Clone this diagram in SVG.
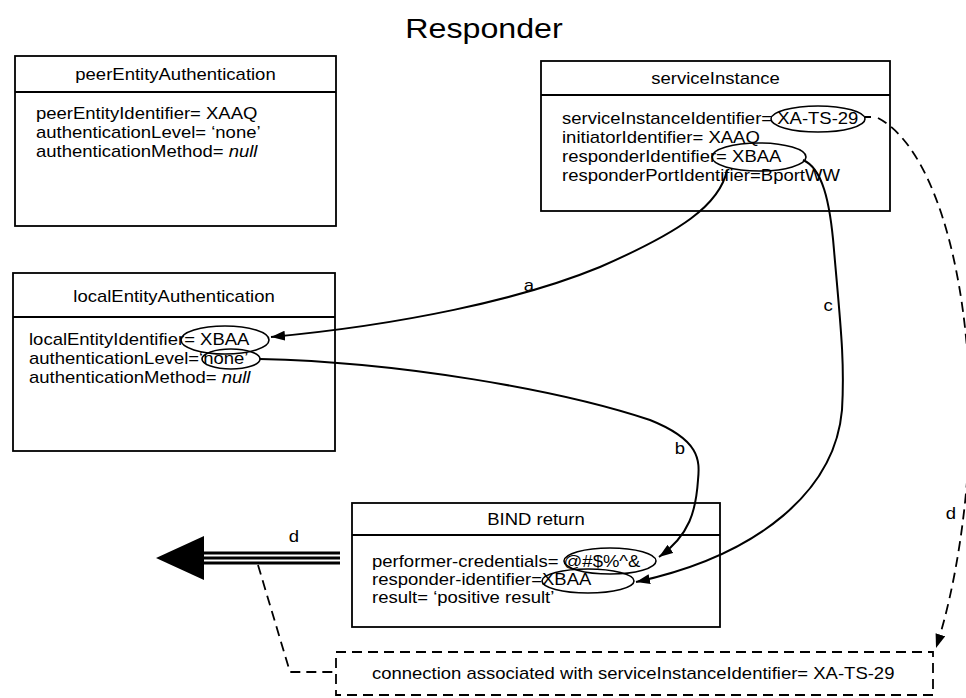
<svg xmlns="http://www.w3.org/2000/svg" width="966" height="698" viewBox="0 0 966 698">
<defs>
<style>
.t{font-family:"Liberation Sans",Arial,sans-serif;font-size:16px;fill:#000}
.c{text-anchor:middle}
.box{fill:#fff;stroke:#000;stroke-width:1.8}
.div{stroke:#000;stroke-width:1.8}
.ell{fill:none;stroke:#000;stroke-width:1.6}
.con{fill:none;stroke:#000;stroke-width:2}
.dash{fill:none;stroke:#000;stroke-width:1.8;stroke-dasharray:10 6}
.tri{stroke:#000;stroke-width:3}
.title{font-family:"Liberation Sans",Arial,sans-serif;font-size:28px;fill:#000;text-anchor:middle}
</style>
<marker id="ah" viewBox="0 0 14 10" refX="14" refY="5" markerWidth="14" markerHeight="10" markerUnits="userSpaceOnUse" orient="auto">
<path d="M0,0 L14,5 L0,10 Z" fill="#000"/>
</marker>
</defs>
<rect width="966" height="698" fill="#fff"/>
<text class="title" transform="translate(484,38) scale(1.15,1)">Responder</text>

<g id="peerEntityAuthentication">
<rect class="box" x="15" y="56" width="321" height="170"/>
<line class="div" x1="15" y1="92" x2="336" y2="92"/>
<text class="t c" transform="translate(175.5,80) scale(1.156,1)">peerEntityAuthentication</text>
<text class="t" transform="translate(36,119) scale(1.156,1)">peerEntityIdentifier= XAAQ</text>
<text class="t" transform="translate(36,138) scale(1.156,1)">authenticationLevel= ‘none’</text>
<text class="t" transform="translate(36,157) scale(1.156,1)">authenticationMethod= <tspan font-style="italic">null</tspan></text>
</g>

<g id="serviceInstance">
<rect class="box" x="541" y="61" width="349" height="150"/>
<line class="div" x1="541" y1="95" x2="890" y2="95"/>
<text class="t c" transform="translate(715.5,84) scale(1.156,1)">serviceInstance</text>
<text class="t" transform="translate(562,124) scale(1.156,1)">serviceInstanceIdentifier= XA-TS-29</text>
<text class="t" transform="translate(562,143) scale(1.156,1)">initiatorIdentifier= XAAQ</text>
<text class="t" transform="translate(562,162) scale(1.156,1)">responderIdentifier= XBAA</text>
<text class="t" transform="translate(562,181) scale(1.156,1)">responderPortIdentifier=BportWW</text>
<ellipse class="ell" cx="818" cy="119" rx="47" ry="13"/>
<ellipse class="ell" cx="759" cy="157" rx="47" ry="14"/>
</g>

<g id="localEntityAuthentication">
<rect class="box" x="13" y="273" width="322" height="178"/>
<line class="div" x1="13" y1="317" x2="335" y2="317"/>
<text class="t c" transform="translate(174,302) scale(1.156,1)">localEntityAuthentication</text>
<text class="t" transform="translate(29,345) scale(1.156,1)">localEntityIdentifier= XBAA</text>
<text class="t" transform="translate(29,364) scale(1.156,1)">authenticationLevel=‘none’</text>
<text class="t" transform="translate(29,383) scale(1.156,1)">authenticationMethod= <tspan font-style="italic">null</tspan></text>
<ellipse class="ell" cx="225" cy="340" rx="44" ry="14"/>
<ellipse class="ell" cx="231" cy="359" rx="29" ry="10"/>
</g>

<g id="bindReturn">
<rect class="box" x="352" y="503" width="368" height="124"/>
<line class="div" x1="352" y1="535" x2="720" y2="535"/>
<text class="t c" transform="translate(536,525) scale(1.156,1)">BIND return</text>
<text class="t" transform="translate(372,567) scale(1.156,1)">performer-credentials= @#$%^&amp;</text>
<text class="t" transform="translate(372,585) scale(1.156,1)">responder-identifier=XBAA</text>
<text class="t" transform="translate(372,603) scale(1.156,1)">result= ‘positive result’</text>
<ellipse class="ell" cx="610" cy="561" rx="46" ry="13"/>
<ellipse class="ell" cx="588" cy="581" rx="46" ry="12"/>
</g>

<g id="connection">
<rect class="dash" x="336" y="652" width="597" height="43"/>
<text class="t" transform="translate(372,679) scale(1.156,1)">connection associated with serviceInstanceIdentifier= XA-TS-29</text>
</g>

<g id="connectors">
<path class="con" d="M727,170 C720,205 680,232 600,267 C520,300 400,325 271,337" marker-end="url(#ah)"/>
<text class="t c" transform="translate(529,291) scale(1.156,1)">a</text>
<path class="con" d="M260,359 C400,362 560,390 650,420 C700,440 700,460 698,480 C696,510 690,535 659,557" marker-end="url(#ah)"/>
<text class="t c" transform="translate(680,454) scale(1.156,1)">b</text>
<path class="con" d="M803,160 C822,168 830,200 834,250 C840,320 845,360 842,410 C835,490 760,555 636,582" marker-end="url(#ah)"/>
<text class="t c" transform="translate(828,311) scale(1.156,1)">c</text>
<line class="con" x1="865" y1="117" x2="871" y2="117"/>
<path class="dash" d="M878,118 C930,145 968,260 970,410 C970,500 955,590 936,648" marker-end="url(#ah)"/>
<text class="t c" transform="translate(951,519) scale(1.156,1)">d</text>
<line class="tri" x1="203" y1="553" x2="340" y2="553"/>
<line class="tri" x1="203" y1="558" x2="340" y2="558"/>
<line class="tri" x1="203" y1="563" x2="340" y2="563"/>
<polygon points="156,558 204,536 204,580" fill="#000"/>
<text class="t c" transform="translate(294,542) scale(1.156,1)">d</text>
<path class="dash" d="M258,565 L290,672 L336,672"/>
</g>
</svg>
